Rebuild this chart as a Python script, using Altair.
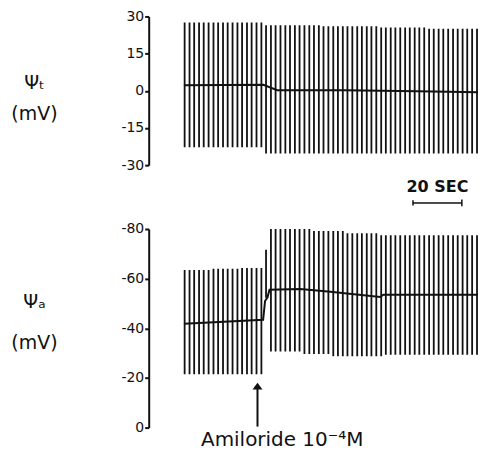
import altair as alt
import pandas as pd

# ---- data ----
# stimulation pulse times (s)
pulse_time = [14.7, 16.7, 18.6, 20.6, 22.5, 24.5, 26.5, 28.4, 30.4, 32.3, 34.3, 36.3,
              38.2, 40.2, 42.1, 44.1, 46.1, 48.0, 50.0, 51.9, 53.9, 55.9, 57.8, 59.8,
              61.7, 63.7, 65.7, 67.6, 69.6, 71.5, 73.5, 75.5, 77.4, 79.4, 81.3, 83.3,
              85.3, 87.2, 89.2, 91.1, 93.1, 95.1, 97.0, 99.0, 100.9, 102.9, 104.9, 106.8,
              108.8, 110.7, 112.7, 114.7, 116.6, 118.6, 120.5, 122.5, 124.5, 126.4, 128.4,
              130.3, 132.3, 134.3, 136.2]

# transepithelial potential: pulse peaks / troughs (mV)
psi_t_peak = [27.6] * 17 + [26.4] * 12 + [26.0] * 12 + [25.5] * 10 + [25.0] * 12
psi_t_trough = [-22.8] * 17 + [-25.3] * 46
# resting trace
psi_t_base_time = [14.4, 46.9, 52.6, 80.0, 110.0, 137.1]
psi_t_base_val = [2.2, 2.4, 0.2, 0.2, -0.2, -0.6]

# apical membrane potential: pulse peaks / troughs (mV)
psi_a_peak = ([-63.5] * 6 + [-64.0] * 6 + [-64.3] * 5 + [-71.6]
              + [-80.0] * 9 + [-79.2] * 7 + [-78.3] * 7 + [-77.5] * 22)
psi_a_trough = ([-21.5] * 17 + [-52.3]
                + [-30.6] * 7 + [-29.6] * 6 + [-28.7] * 11 + [-29.3] * 21)
psi_a_base_time = [14.4, 46.8, 47.6, 48.6, 49.4, 62.0, 74.3, 94.7, 96.0, 137.1]
psi_a_base_val = [-41.8, -43.4, -51.0, -52.5, -55.5, -55.8, -54.7, -52.6, -53.5, -53.5]

# annotations
amiloride_time = 44.5
amiloride_label = "Amiloride 10\u207b\u2074M"
scalebar_start = 108.1
scalebar_len = 20
scalebar_label = "20 SEC"

top_ticks = [-30, -15, 0, 15, 30]
bottom_ticks = [-80, -60, -40, -20, 0]

assert len(psi_t_peak) == len(pulse_time) == len(psi_t_trough) == len(psi_a_peak) == len(psi_a_trough)

FONT = "DejaVu Sans"
BLACK = "#111111"

df_t = pd.DataFrame({"t": pulse_time, "v": psi_t_peak, "v2": psi_t_trough})
df_t_base = pd.DataFrame({"t": psi_t_base_time, "v": psi_t_base_val})
df_a = pd.DataFrame({"t": pulse_time, "v": psi_a_peak, "v2": psi_a_trough})
df_a_base = pd.DataFrame({"t": psi_a_base_time, "v": psi_a_base_val})

X = alt.X("t:Q", scale=alt.Scale(domain=[0, 134.7], nice=False, zero=False), axis=None)
X2 = alt.X2("t2:Q")


def yaxis(values, title, title_y, line_h):
    return alt.Axis(
        values=values, grid=False, tickSize=4, tickWidth=2, tickColor=BLACK,
        domainWidth=2, domainColor=BLACK, labelFlush=False, labelOverlap=False,
        labelFont=FONT, labelFontSize=14, labelColor=BLACK, labelPadding=1,
        labelExpr="replace(datum.label, '\u2212', '-')",
        title=title, titleAngle=0, titleX=-115, titleY=title_y,
        titleAlign="center", titleBaseline="middle", titleFont=FONT,
        titleFontSize=19, titleFontWeight="normal", titleColor=BLACK,
        titleLineHeight=line_h,
    )


Y_top = alt.Y("v:Q", scale=alt.Scale(domain=[-30, 30], nice=False, zero=False),
              axis=yaxis(top_ticks, ["\u03a8\u209c", "(mV)"], 66, 31))
Y_bot = alt.Y("v:Q", scale=alt.Scale(domain=[-80, 0], nice=False, zero=False, reverse=True),
              axis=yaxis(bottom_ticks, ["\u03a8\u2090", "(mV)"], 73, 41))

# ---- top panel ----
top_pulses = alt.Chart(df_t).mark_rule(color=BLACK, strokeWidth=1.8, clip=True).encode(
    x=X, y=Y_top, y2="v2:Q")
top_base = alt.Chart(df_t_base).mark_line(color=BLACK, strokeWidth=2, clip=True).encode(x=X, y=Y_top)
bar = alt.Chart(pd.DataFrame({"t": [scalebar_start], "t2": [scalebar_start + scalebar_len], "v": [-45.3]})
                ).mark_rule(color=BLACK, strokeWidth=1.5).encode(x=X, x2=X2, y=Y_top)
bar_ends = alt.Chart(pd.DataFrame({"t": [scalebar_start, scalebar_start + scalebar_len],
                                   "v": [-44.2, -43.9], "v2": [-46.3, -46.6]})
                     ).mark_rule(color=BLACK, strokeWidth=1.5).encode(x=X, y=Y_top, y2="v2:Q")
bar_text = alt.Chart(pd.DataFrame({"t": [scalebar_start + scalebar_len / 2], "v": [-40.9],
                                   "label": [scalebar_label]})
                     ).mark_text(font=FONT, fontSize=16, fontWeight="bold", color=BLACK,
                                 align="center", baseline="alphabetic").encode(x=X, y=Y_top, text="label:N")
top = alt.layer(top_pulses, top_base, bar, bar_ends, bar_text).properties(width=330, height=149)

# ---- bottom panel ----
bot_pulses = alt.Chart(df_a).mark_rule(color=BLACK, strokeWidth=1.8, clip=True).encode(
    x=X, y=Y_bot, y2="v2:Q")
bot_base = alt.Chart(df_a_base).mark_line(color=BLACK, strokeWidth=2, clip=True).encode(x=X, y=Y_bot)
arrow = alt.Chart(pd.DataFrame({"t": [amiloride_time], "v": [-16.1], "v2": [-0.4]})
                  ).mark_rule(color=BLACK, strokeWidth=2).encode(x=X, y=Y_bot, y2="v2:Q")
arrow_head = alt.Chart(pd.DataFrame({"t": [amiloride_time], "v": [-16.7]})
                       ).mark_point(shape="M-1,0.7L1,0.7L0,-0.7Z", size=100, filled=True,
                                    color=BLACK, opacity=1).encode(x=X, y=Y_bot)
ami_text = alt.Chart(pd.DataFrame({"t": [21.4], "v": [7.6], "label": [amiloride_label]})
                     ).mark_text(font=FONT, fontSize=20, color=BLACK, align="left",
                                 baseline="alphabetic").encode(x=X, y=Y_bot, text="label:N")
bottom = alt.layer(bot_pulses, bot_base, arrow, arrow_head, ami_text).properties(width=330, height=199)

chart = alt.vconcat(top, bottom, spacing=64, bounds="flush").properties(
    padding={"left": 2, "top": 1, "right": 0, "bottom": 0},
    background="white",
).configure_view(stroke=None)

chart.save("out.html", embed_options={"renderer": "svg", "actions": False})
